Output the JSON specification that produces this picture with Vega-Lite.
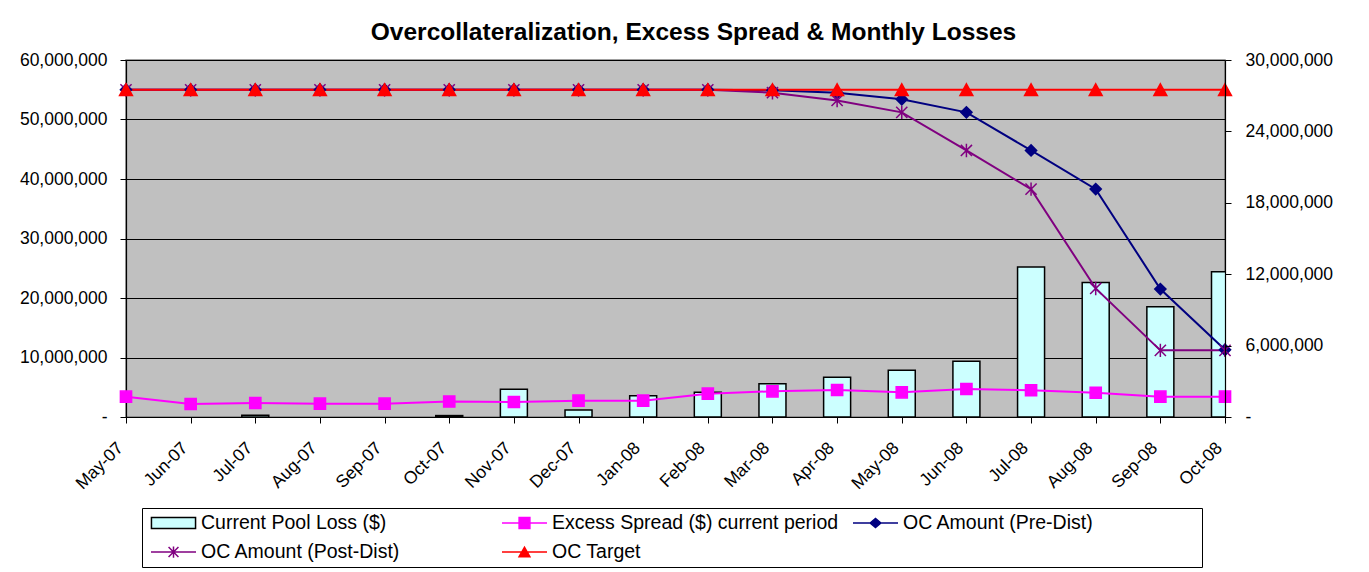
{
  "$schema": "https://vega.github.io/schema/vega-lite/v6.json",
  "width": 1099,
  "height": 357,
  "autosize": "none",
  "padding": {"left": 126, "top": 60, "right": 144, "bottom": 155},
  "background": "white",
  "title": {
    "text": "Overcollateralization, Excess Spread & Monthly Losses",
    "font": "Liberation Sans",
    "fontSize": 24.5,
    "fontWeight": "bold",
    "color": "black",
    "anchor": "middle",
    "dx": 18,
    "offset": 6
  },
  "config": {
    "font": "Liberation Sans",
    "view": {"fill": "#C0C0C0", "stroke": "#808080", "strokeWidth": 1.5},
    "axis": {
      "labelFont": "Liberation Sans",
      "labelColor": "black",
      "labelFontSize": 17.5,
      "domainColor": "black",
      "domainWidth": 1.2,
      "tickColor": "black",
      "tickSize": 6,
      "title": null
    }
  },
  "data": {
    "values": [
      {"month": "May-07", "Current Pool Loss ($)": 0, "Excess Spread ($) current period": 3410000, "OC Amount (Pre-Dist)": 55000000, "OC Amount (Post-Dist)": 55000000, "OC Target": 55000000},
      {"month": "Jun-07", "Current Pool Loss ($)": 0, "Excess Spread ($) current period": 2180000, "OC Amount (Pre-Dist)": 55000000, "OC Amount (Post-Dist)": 55000000, "OC Target": 55000000},
      {"month": "Jul-07", "Current Pool Loss ($)": 150000, "Excess Spread ($) current period": 2350000, "OC Amount (Pre-Dist)": 55000000, "OC Amount (Post-Dist)": 55000000, "OC Target": 55000000},
      {"month": "Aug-07", "Current Pool Loss ($)": 0, "Excess Spread ($) current period": 2240000, "OC Amount (Pre-Dist)": 55000000, "OC Amount (Post-Dist)": 55000000, "OC Target": 55000000},
      {"month": "Sep-07", "Current Pool Loss ($)": 0, "Excess Spread ($) current period": 2240000, "OC Amount (Pre-Dist)": 55000000, "OC Amount (Post-Dist)": 55000000, "OC Target": 55000000},
      {"month": "Oct-07", "Current Pool Loss ($)": 120000, "Excess Spread ($) current period": 2600000, "OC Amount (Pre-Dist)": 55000000, "OC Amount (Post-Dist)": 55000000, "OC Target": 55000000},
      {"month": "Nov-07", "Current Pool Loss ($)": 2330000, "Excess Spread ($) current period": 2520000, "OC Amount (Pre-Dist)": 55000000, "OC Amount (Post-Dist)": 55000000, "OC Target": 55000000},
      {"month": "Dec-07", "Current Pool Loss ($)": 590000, "Excess Spread ($) current period": 2740000, "OC Amount (Pre-Dist)": 55000000, "OC Amount (Post-Dist)": 55000000, "OC Target": 55000000},
      {"month": "Jan-08", "Current Pool Loss ($)": 1790000, "Excess Spread ($) current period": 2740000, "OC Amount (Pre-Dist)": 55000000, "OC Amount (Post-Dist)": 55000000, "OC Target": 55000000},
      {"month": "Feb-08", "Current Pool Loss ($)": 2070000, "Excess Spread ($) current period": 3920000, "OC Amount (Pre-Dist)": 55000000, "OC Amount (Post-Dist)": 55000000, "OC Target": 55000000},
      {"month": "Mar-08", "Current Pool Loss ($)": 2800000, "Excess Spread ($) current period": 4320000, "OC Amount (Pre-Dist)": 54900000, "OC Amount (Post-Dist)": 54500000, "OC Target": 55000000},
      {"month": "Apr-08", "Current Pool Loss ($)": 3330000, "Excess Spread ($) current period": 4540000, "OC Amount (Pre-Dist)": 54500000, "OC Amount (Post-Dist)": 53200000, "OC Target": 55000000},
      {"month": "May-08", "Current Pool Loss ($)": 3920000, "Excess Spread ($) current period": 4150000, "OC Amount (Pre-Dist)": 53400000, "OC Amount (Post-Dist)": 51200000, "OC Target": 55000000},
      {"month": "Jun-08", "Current Pool Loss ($)": 4680000, "Excess Spread ($) current period": 4710000, "OC Amount (Pre-Dist)": 51200000, "OC Amount (Post-Dist)": 44800000, "OC Target": 55000000},
      {"month": "Jul-08", "Current Pool Loss ($)": 12600000, "Excess Spread ($) current period": 4490000, "OC Amount (Pre-Dist)": 44800000, "OC Amount (Post-Dist)": 38300000, "OC Target": 55000000},
      {"month": "Aug-08", "Current Pool Loss ($)": 11300000, "Excess Spread ($) current period": 4080000, "OC Amount (Pre-Dist)": 38300000, "OC Amount (Post-Dist)": 21600000, "OC Target": 55000000},
      {"month": "Sep-08", "Current Pool Loss ($)": 9270000, "Excess Spread ($) current period": 3410000, "OC Amount (Pre-Dist)": 21500000, "OC Amount (Post-Dist)": 11200000, "OC Target": 55000000},
      {"month": "Oct-08", "Current Pool Loss ($)": 12200000, "Excess Spread ($) current period": 3410000, "OC Amount (Pre-Dist)": 11300000, "OC Amount (Post-Dist)": 11200000, "OC Target": 55000000}
    ]
  },
  "transform": [
    {"fold": ["Current Pool Loss ($)", "Excess Spread ($) current period", "OC Amount (Pre-Dist)", "OC Amount (Post-Dist)", "OC Target"], "as": ["series", "value"]}
  ],
  "encoding": {
    "x": {
      "field": "month",
      "type": "ordinal",
      "sort": ["May-07", "Jun-07", "Jul-07", "Aug-07", "Sep-07", "Oct-07", "Nov-07", "Dec-07", "Jan-08", "Feb-08", "Mar-08", "Apr-08", "May-08", "Jun-08", "Jul-08", "Aug-08", "Sep-08", "Oct-08"],
      "scale": {"type": "point", "padding": 0},
      "axis": {
        "labelAngle": -45,
        "labelAlign": "right",
        "labelBaseline": "middle",
        "labelOffset": -6,
        "labelPadding": 22,
        "labelOverlap": false,
        "grid": false,
        "zindex": 1
      }
    }
  },
  "layer": [
    {
      "transform": [{"filter": "datum.series === 'Current Pool Loss ($)' && datum.value > 0"}],
      "mark": {"type": "bar", "size": 27, "strokeWidth": 1.5, "clip": true},
      "encoding": {
        "y": {
          "field": "value",
          "type": "quantitative",
          "scale": {"domain": [0, 30000000], "nice": false, "zero": true},
          "axis": {
            "orient": "right",
            "values": [0, 6000000, 12000000, 18000000, 24000000, 30000000],
            "labelExpr": "datum.value === 0 ? '-' : format(datum.value, ',')",
            "grid": false,
            "labelPadding": 14,
            "zindex": 1
          }
        },
        "fill": {
          "field": "series",
          "type": "nominal",
          "scale": {
            "domain": ["Current Pool Loss ($)", "Excess Spread ($) current period", "OC Amount (Pre-Dist)", "OC Amount (Post-Dist)", "OC Target"],
            "range": ["#CCFFFF", "#FF00FF", "#000080", "#800080", "#FF0000"]
          },
          "legend": {
            "orient": "none",
            "legendX": 16,
            "legendY": 448,
            "direction": "horizontal",
            "columns": 3,
            "title": null,
            "gridAlign": "all",
            "columnPadding": 3,
            "rowPadding": 9,
            "clipHeight": 20,
            "symbolSize": 2025,
            "symbolOffset": 3,
            "symbolStrokeWidth": 1.5,
            "labelOffset": 4,
            "labelFont": "Liberation Sans",
            "labelFontSize": 19.5,
            "labelColor": "black",
            "labelLimit": 500,
            "strokeColor": "black",
            "fillColor": "white",
            "padding": 5,
            "encode": {
              "entries": {"update": {"width": {"value": 348}}},
              "symbols": {
                "update": {
                  "shape": {"signal": "datum.value === 'Current Pool Loss ($)' ? 'M-0.98,-0.24H0.98V0.24H-0.98Z' : datum.value === 'Excess Spread ($) current period' ? 'M-1,0H1M-0.24,-0.24H0.24V0.24H-0.24Z' : datum.value === 'OC Amount (Pre-Dist)' ? 'M-1,0H1M-0.24,0L0,-0.2L0.24,0L0,0.2Z' : datum.value === 'OC Amount (Post-Dist)' ? 'M-1,0H1M-0.22,-0.22L0.22,0.22M-0.22,0.22L0.22,-0.22M0,-0.25V0.25' : 'M-1,0H1M-0.24,0.21L0,-0.21L0.24,0.21Z'"},
                  "stroke": {"signal": "datum.value === 'Current Pool Loss ($)' ? '#000000' : datum.value === 'Excess Spread ($) current period' ? '#FF00FF' : datum.value === 'OC Amount (Pre-Dist)' ? '#000080' : datum.value === 'OC Amount (Post-Dist)' ? '#800080' : '#FF0000'"},
                  "strokeWidth": {"value": 1.5},
                  "size": {"value": 2025},
                  "opacity": {"value": 1}
                }
              }
            }
          }
        },
        "stroke": {
          "field": "series",
          "type": "nominal",
          "scale": {
            "domain": ["Current Pool Loss ($)", "Excess Spread ($) current period", "OC Amount (Pre-Dist)", "OC Amount (Post-Dist)", "OC Target"],
            "range": ["#000000", "#FF00FF", "#000080", "#800080", "#FF0000"]
          },
          "legend": null
        }
      }
    },
    {
      "transform": [{"filter": "datum.series !== 'Current Pool Loss ($)'"}],
      "encoding": {
        "y": {
          "field": "value",
          "type": "quantitative",
          "scale": {"domain": [0, 60000000], "nice": false, "zero": true},
          "axis": {
            "orient": "left",
            "values": [0, 10000000, 20000000, 30000000, 40000000, 50000000, 60000000],
            "labelExpr": "datum.value === 0 ? '-' : format(datum.value, ',')",
            "grid": true,
            "gridColor": "#000000",
            "gridWidth": 1,
            "labelPadding": 13,
            "zindex": 0
          }
        },
        "stroke": {
          "field": "series",
          "type": "nominal",
          "scale": {
            "domain": ["Current Pool Loss ($)", "Excess Spread ($) current period", "OC Amount (Pre-Dist)", "OC Amount (Post-Dist)", "OC Target"],
            "range": ["#000000", "#FF00FF", "#000080", "#800080", "#FF0000"]
          },
          "legend": null
        }
      },
      "layer": [
        {"mark": {"type": "line", "strokeWidth": 2}},
        {
          "mark": {"type": "point", "filled": true, "size": 125, "strokeWidth": 1.5, "opacity": 1},
          "encoding": {
            "fill": {
              "field": "series",
              "type": "nominal",
              "scale": {
                "domain": ["Current Pool Loss ($)", "Excess Spread ($) current period", "OC Amount (Pre-Dist)", "OC Amount (Post-Dist)", "OC Target"],
                "range": ["#CCFFFF", "#FF00FF", "#000080", "#800080", "#FF0000"]
              }
            },
            "shape": {
              "field": "series",
              "type": "nominal",
              "scale": {
                "domain": ["Excess Spread ($) current period", "OC Amount (Pre-Dist)", "OC Amount (Post-Dist)", "OC Target"],
                "range": ["square", "diamond", "M-1,-1L1,1M-1,1L1,-1M0,-1.2V1.2", "M0,-1.05L1.15,1.05L-1.15,1.05Z"]
              },
              "legend": null
            }
          }
        }
      ]
    }
  ],
  "resolve": {"scale": {"y": "independent"}, "axis": {"y": "independent"}}
}
